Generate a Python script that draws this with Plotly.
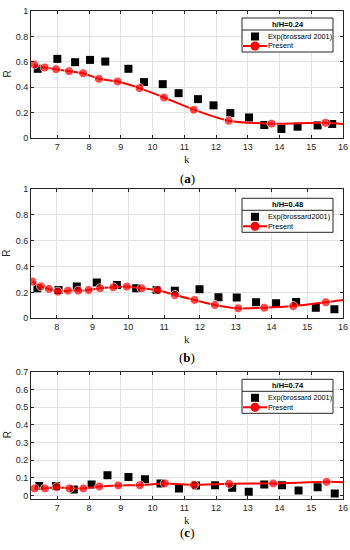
import plotly.graph_objects as go

# Panel (a) h/H=0.24
exp_a_k = [6.38, 7.0, 7.56, 8.03, 8.51, 9.24, 9.73, 10.32, 10.82, 11.43, 11.92, 12.45, 13.04, 13.52, 14.06, 14.57, 15.2, 15.66]
exp_a_r = [0.545, 0.623, 0.597, 0.615, 0.602, 0.545, 0.44, 0.424, 0.353, 0.306, 0.257, 0.196, 0.162, 0.102, 0.071, 0.089, 0.099, 0.11]
pre_a_k = [6.27, 6.6, 6.96, 7.37, 7.81, 8.31, 8.9, 9.59, 10.36, 11.3, 12.4, 13.75, 15.45, 16.0]
pre_a_r = [0.579, 0.555, 0.542, 0.526, 0.51, 0.466, 0.445, 0.393, 0.319, 0.223, 0.136, 0.113, 0.12, 0.11]

# Panel (b) h/H=0.48
exp_b_k = [7.46, 8.05, 8.56, 9.12, 9.68, 10.22, 10.79, 11.3, 11.99, 12.52, 13.03, 13.57, 14.13, 14.69, 15.24, 15.76]
exp_b_r = [0.232, 0.219, 0.245, 0.276, 0.258, 0.232, 0.219, 0.214, 0.224, 0.162, 0.16, 0.124, 0.116, 0.126, 0.082, 0.07]
pre_b_k = [7.32, 7.56, 7.78, 8.03, 8.31, 8.6, 8.89, 9.21, 9.58, 9.96, 10.37, 10.82, 11.3, 11.85, 12.42, 13.07, 13.8, 14.61, 15.52, 16.0]
pre_b_r = [0.284, 0.247, 0.227, 0.206, 0.214, 0.214, 0.219, 0.232, 0.24, 0.245, 0.232, 0.219, 0.18, 0.142, 0.103, 0.077, 0.082, 0.095, 0.124, 0.142]

# Panel (c) h/H=0.74
exp_c_k = [6.43, 6.96, 7.52, 8.08, 8.58, 9.24, 9.76, 10.25, 10.83, 11.37, 11.97, 12.51, 13.03, 13.52, 14.08, 14.6, 15.2, 15.74]
exp_c_r = [0.053, 0.053, 0.034, 0.062, 0.115, 0.104, 0.091, 0.068, 0.04, 0.057, 0.058, 0.043, 0.021, 0.062, 0.058, 0.028, 0.047, 0.011]
pre_c_k = [6.28, 6.61, 6.98, 7.38, 7.82, 8.32, 8.92, 9.6, 10.39, 11.3, 12.41, 13.8, 15.48, 16.0]
pre_c_r = [0.04, 0.04, 0.047, 0.04, 0.04, 0.051, 0.057, 0.058, 0.068, 0.06, 0.066, 0.068, 0.077, 0.075]

ticks_a_x = [7, 8, 9, 10, 11, 12, 13, 14, 15, 16]
ticks_b_x = [8, 9, 10, 11, 12, 13, 14, 15, 16]
ticks_c_x = [7, 8, 9, 10, 11, 12, 13, 14, 15, 16]
ticks_ab_y = [0, 0.2, 0.4, 0.6, 0.8, 1]
ticks_c_y = [0, 0.1, 0.2, 0.3, 0.4, 0.5, 0.6, 0.7]

W, H = 350, 550
panels = [
    ("a", "h/H=0.24", "Exp(brossard 2001)", exp_a_k, exp_a_r, pre_a_k, pre_a_r, [6.17, 16], [0, 1], ticks_a_x, ticks_ab_y, (11, 138), 18, 178),
    ("b", "h/H=0.48", "Exp(brossard2001)", exp_b_k, exp_b_r, pre_b_k, pre_b_r, [7.28, 16], [0, 1], ticks_b_x, ticks_ab_y, (189, 318.3), 198.3, 357),
    ("c", "h/H=0.74", "Exp(brossard 2001)", exp_c_k, exp_c_r, pre_c_k, pre_c_r, [6.17, 16], [-0.02, 0.7], ticks_c_x, ticks_c_y, (371.7, 499), 379.3, 532),
]

fig = go.Figure()

def px(x):
    return x / W

def py(y):
    return 1 - y / H

axis_common = dict(
    showgrid=True, gridcolor="#e3e3e3", gridwidth=1,
    showline=True, linecolor="#262626", linewidth=1, mirror="ticks",
    ticks="inside", ticklen=3, tickcolor="#262626",
    tickfont=dict(family="Liberation Sans, Arial", size=9, color="#262626"),
    zeroline=False, automargin=False,
)

shapes = []
annotations = []
for i, (lab, title, expname, ek, er, pk, pr, xr, yr, xt, yt, (ytop, ybot), ltop, laby) in enumerate(panels):
    n = i + 1
    xa = "x" if n == 1 else f"x{n}"
    ya = "y" if n == 1 else f"y{n}"
    fig.add_trace(go.Scatter(
        x=ek, y=er, mode="markers", name=expname, xaxis=xa, yaxis=ya, showlegend=False,
        marker=dict(symbol="square", size=8, color="black"),
    ))
    sizes = [9] * (len(pk) - 1) + [0]
    fig.add_trace(go.Scatter(
        x=pk, y=pr, mode="lines+markers", name="Present", xaxis=xa, yaxis=ya, showlegend=False,
        line=dict(color="#ff0000", width=2, shape="spline", smoothing=0.6),
        marker=dict(symbol="circle", size=sizes, color="#ff0000"),
    ))
    xkey = "xaxis" if n == 1 else f"xaxis{n}"
    ykey = "yaxis" if n == 1 else f"yaxis{n}"
    fig.layout[xkey] = dict(
        axis_common, domain=[px(31), px(343)], range=xr, tickvals=xt,
        ticktext=[str(v) for v in xt], anchor=ya,
    )
    fig.layout[ykey] = dict(
        axis_common, domain=[py(ybot), py(ytop)], range=yr, tickvals=yt,
        ticktext=[("%g" % v) for v in yt], anchor=xa,
    )
    # axis titles
    annotations.append(dict(text="k", xref="paper", yref="paper", x=px(187), y=py(ybot + 21),
                            showarrow=False, xanchor="center", yanchor="middle",
                            font=dict(family="Liberation Serif, Times New Roman", size=11, color="#262626")))
    annotations.append(dict(text="R", xref="paper", yref="paper", x=px(7), y=py((ytop + ybot) / 2),
                            showarrow=False, textangle=-90, xanchor="center", yanchor="middle",
                            font=dict(family="Liberation Sans, Arial", size=10, color="#262626")))
    # panel label
    annotations.append(dict(text=f"(<b>{lab}</b>)", xref="paper", yref="paper", x=px(187), y=py(laby),
                            showarrow=False, xanchor="center", yanchor="middle",
                            font=dict(family="Liberation Serif, Times New Roman", size=13, color="#000")))
    # legend box
    lx0, lx1 = 242, 333
    shapes.append(dict(type="rect", xref="paper", yref="paper", x0=px(lx0), x1=px(lx1),
                       y0=py(ltop + 34), y1=py(ltop), fillcolor="white",
                       line=dict(color="#262626", width=1), layer="above"))
    shapes.append(dict(type="line", xref="paper", yref="paper", x0=px(lx0), x1=px(lx1),
                       y0=py(ltop + 12), y1=py(ltop + 12), line=dict(color="#262626", width=1), layer="above"))
    annotations.append(dict(text=f"<b>{title}</b>", xref="paper", yref="paper", x=px((lx0 + lx1) / 2),
                            y=py(ltop + 6.5), showarrow=False, xanchor="center", yanchor="middle",
                            font=dict(family="Liberation Sans, Arial", size=7.5, color="#000")))
    y1 = ltop + 18.5
    y2 = ltop + 28
    shapes.append(dict(type="rect", xref="paper", yref="paper", x0=px(251), x1=px(259),
                       y0=py(y1 + 4), y1=py(y1 - 4), fillcolor="black", line=dict(width=0), layer="above"))
    shapes.append(dict(type="line", xref="paper", yref="paper", x0=px(243), x1=px(267),
                       y0=py(y2), y1=py(y2), line=dict(color="#ff0000", width=2), layer="above"))
    shapes.append(dict(type="circle", xref="paper", yref="paper", x0=px(250.5), x1=px(259.5),
                       y0=py(y2 + 4.5), y1=py(y2 - 4.5), fillcolor="#ff0000", line=dict(width=0), layer="above"))
    annotations.append(dict(text=expname, xref="paper", yref="paper", x=px(268), y=py(y1),
                            showarrow=False, xanchor="left", yanchor="middle", xshift=-2,
                            font=dict(family="Liberation Sans, Arial", size=7.3, color="#000")))
    annotations.append(dict(text="Present", xref="paper", yref="paper", x=px(268), y=py(y2),
                            showarrow=False, xanchor="left", yanchor="middle", xshift=-2,
                            font=dict(family="Liberation Sans, Arial", size=7.3, color="#000")))

fig.update_layout(
    width=W, height=H, margin=dict(l=0, r=0, t=0, b=0),
    paper_bgcolor="white", plot_bgcolor="white", showlegend=False,
    shapes=shapes, annotations=annotations,
)

fig.write_html("out.html", config={"displayModeBar": False},
               post_script="document.body.style.margin='0';document.body.style.overflow='hidden';")
